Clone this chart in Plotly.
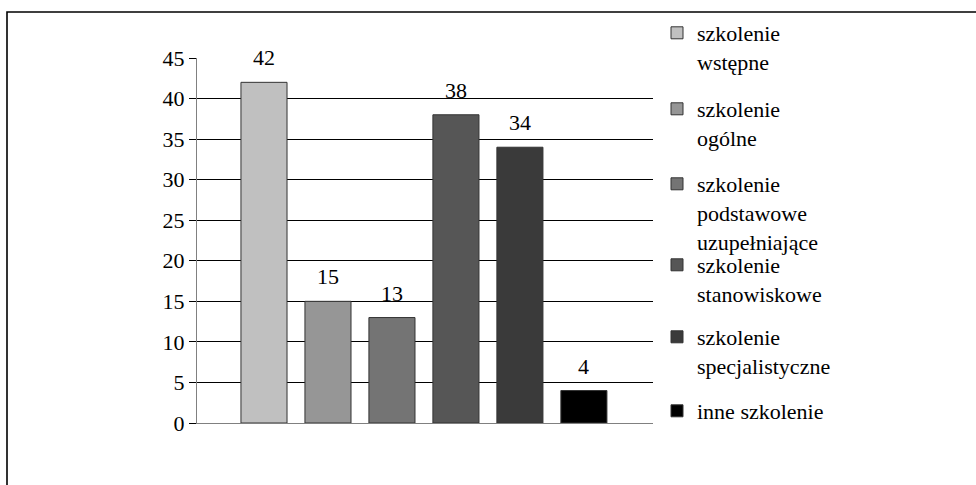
import plotly.graph_objects as go

# Training types and number of people per type
categories = [
    "szkolenie<br>wstępne",
    "szkolenie<br>ogólne",
    "szkolenie<br>podstawowe<br>uzupełniające",
    "szkolenie<br>stanowiskowe",
    "szkolenie<br>specjalistyczne",
    "inne szkolenie",
]
values = [42, 15, 13, 38, 34, 4]
bar_colors = ["#C0C0C0", "#969696", "#747474", "#565656", "#3A3A3A", "#000000"]
y_ticks = [0, 5, 10, 15, 20, 25, 30, 35, 40, 45]

W, H = 976, 485
PLOT_L, PLOT_R, PLOT_T, PLOT_B = 197, 653, 58, 423
FONT = '"Liberation Serif", "Times New Roman", serif'

# vertical centres (px) of each legend entry's first line
legend_rows = [33, 109, 184, 265, 337, 411]

fig = go.Figure()
legend_layouts = {}
for i, (name, val, col) in enumerate(zip(categories, values, bar_colors)):
    lg = "legend" if i == 0 else f"legend{i + 1}"
    fig.add_trace(go.Bar(
        x=[i], y=[val], name=name, width=0.72,
        marker=dict(color=col, line=dict(color="#333333", width=1)),
        legend=lg, hoverinfo="skip",
    ))
    legend_layouts[lg] = dict(
        x=657 / W, xanchor="left", xref="container",
        y=1 - (legend_rows[i] - 21) / H, yanchor="top", yref="container",
        bgcolor="rgba(0,0,0,0)", borderwidth=0, valign="top",
        font=dict(family=FONT, size=22, color="#000000"),
        itemclick=False, itemdoubleclick=False,
    )
    # value label above the bar
    fig.add_annotation(
        x=i, y=val, text=str(val), showarrow=False, yanchor="bottom",
        yshift=10, font=dict(family=FONT, size=22, color="#000000"),
    )

px_w = PLOT_R - PLOT_L
px_h = PLOT_B - PLOT_T

def px_x(p):
    return (p - PLOT_L) / px_w

def px_y(p):
    return (PLOT_B - p) / px_h

# outer chart frame (left and top edges visible)
fig.add_shape(type="rect", xref="paper", yref="paper",
              x0=px_x(7), x1=px_x(990), y0=px_y(500), y1=px_y(12),
              line=dict(color="#000000", width=1.6), fillcolor="rgba(0,0,0,0)",
              layer="below")

fig.update_layout(
    width=W, height=H,
    margin=dict(l=PLOT_L, r=W - PLOT_R, t=PLOT_T, b=H - PLOT_B, autoexpand=False),
    paper_bgcolor="#FFFFFF", plot_bgcolor="#FFFFFF",
    barmode="overlay", showlegend=True,
    font=dict(family=FONT, color="#000000"),
    **legend_layouts,
)
fig.update_xaxes(
    range=[-1.047, 6.08], showticklabels=False, showgrid=False,
    zeroline=False, showline=True, linecolor="#808080", linewidth=1,
    ticks="", fixedrange=True,
)
fig.update_yaxes(
    range=[0, 45], tickvals=y_ticks, ticktext=[str(t) for t in y_ticks],
    showgrid=True, gridcolor="#000000", gridwidth=1,
    zeroline=False, showline=True, linecolor="#808080", linewidth=1,
    ticks="outside", ticklen=7, tickcolor="#000000", tickwidth=1,
    tickfont=dict(family=FONT, size=22, color="#000000"),
    fixedrange=True,
)

fig.write_html("out.html", config={"displayModeBar": False})
